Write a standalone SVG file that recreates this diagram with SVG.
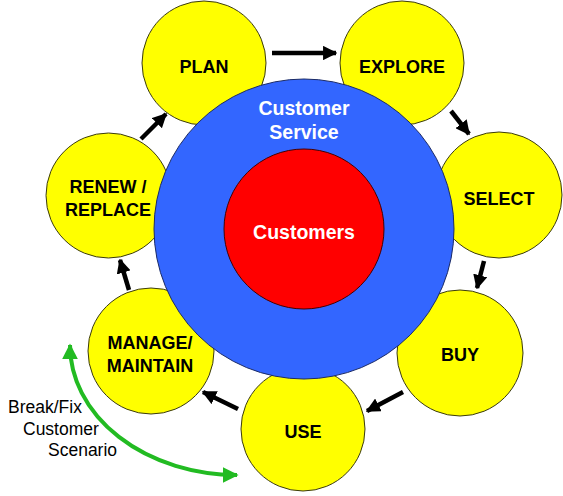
<svg xmlns="http://www.w3.org/2000/svg" width="563" height="496" viewBox="0 0 563 496">
<defs>
<style>
.stage{fill:#FFFF00;stroke:#3a3a10;stroke-width:1}
.lbl{font-family:"Liberation Sans",Arial,sans-serif;font-weight:bold;font-size:18px;fill:#000;text-anchor:middle}
.wl{font-family:"Liberation Sans",Arial,sans-serif;font-weight:bold;font-size:19.5px;fill:#fff;text-anchor:middle}
.note{font-family:"Liberation Sans",Arial,sans-serif;font-size:17.5px;fill:#000}
.arr{stroke:#000;stroke-width:4.5;fill:none;marker-end:url(#ah)}
</style>
<marker id="ah" viewBox="0 0 10 10" refX="9" refY="5" markerWidth="3.2" markerHeight="3.2" orient="auto" markerUnits="strokeWidth">
<path d="M0,0 L10,5 L0,10 z" fill="#000"/>
</marker>
<marker id="gh" viewBox="0 0 10 10" refX="9" refY="5" markerWidth="4" markerHeight="4" orient="auto-start-reverse" markerUnits="strokeWidth">
<path d="M0,0 L10,5 L0,10 z" fill="#22BB22"/>
</marker>
</defs>
<rect width="563" height="496" fill="#fff"/>
<g id="plan"><circle class="stage" cx="204" cy="63" r="62"/><text class="lbl" x="204" y="73">PLAN</text></g>
<g id="explore"><circle class="stage" cx="402" cy="63" r="62"/><text class="lbl" x="402" y="73">EXPLORE</text></g>
<g id="select"><circle class="stage" cx="499" cy="195" r="63"/><text class="lbl" x="499" y="204.5">SELECT</text></g>
<g id="buy"><circle class="stage" cx="460" cy="353" r="63"/><text class="lbl" x="460" y="360.5">BUY</text></g>
<g id="use"><circle class="stage" cx="303" cy="429" r="62"/><text class="lbl" x="303" y="437.5">USE</text></g>
<g id="manage"><circle class="stage" cx="151" cy="351" r="63"/><text class="lbl" x="150" y="348.5">MANAGE/</text><text class="lbl" x="150" y="371.5">MAINTAIN</text></g>
<g id="renew"><circle class="stage" cx="108.5" cy="195.5" r="62.5"/><text class="lbl" x="108" y="192.5">RENEW /</text><text class="lbl" x="108" y="215.5">REPLACE</text></g>
<g id="service"><circle cx="304" cy="229" r="150" fill="#3366FF" stroke="#1a2a66" stroke-width="1"/><text class="wl" x="304" y="115">Customer</text><text class="wl" x="304" y="139">Service</text></g>
<g id="customers"><circle cx="304" cy="229" r="80" fill="#FF0000" stroke="#400" stroke-width="1"/><text class="wl" x="304" y="239">Customers</text></g>
<g id="connectors">
<line class="arr" x1="272" y1="53" x2="336" y2="53"/>
<line class="arr" x1="451" y1="111" x2="469" y2="134"/>
<line class="arr" x1="484" y1="261" x2="477" y2="288"/>
<line class="arr" x1="403" y1="392" x2="367" y2="411"/>
<line class="arr" x1="238" y1="409" x2="203" y2="392"/>
<line class="arr" x1="129" y1="290" x2="120" y2="260"/>
<line class="arr" x1="141" y1="139" x2="166" y2="114"/>
<path d="M70,345 A167,130 0 0,0 237,475" fill="none" stroke="#22BB22" stroke-width="4" marker-start="url(#gh)" marker-end="url(#gh)"/>
</g>
<g id="note">
<text class="note" x="8" y="413">Break/Fix</text>
<text class="note" x="23" y="435">Customer</text>
<text class="note" x="48" y="456">Scenario</text>
</g>
</svg>
